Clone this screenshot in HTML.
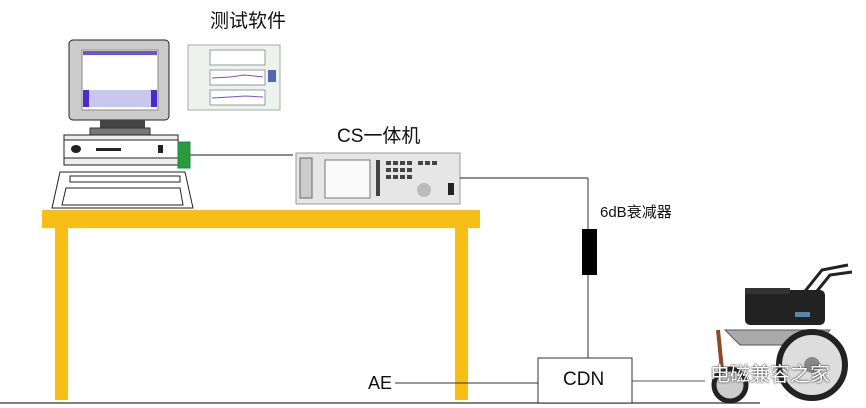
<!DOCTYPE html>
<html><head><meta charset="utf-8"><style>
body{margin:0;background:#fff;width:866px;height:408px;overflow:hidden;position:relative;font-family:"Liberation Sans","Noto Sans CJK SC",sans-serif}
.a{position:absolute}
</style></head><body>
<svg class="a" style="left:0;top:0" width="866" height="408">
<!-- table -->
<rect x="42" y="210" width="438" height="18" fill="#f7bf16"/>
<rect x="55" y="228" width="13" height="172" fill="#f7bf16"/>
<rect x="455" y="228" width="13" height="172" fill="#f7bf16"/>
<line x1="0" y1="403" x2="760" y2="403" stroke="#555" stroke-width="1.5"/>
<!-- monitor -->
<rect x="69" y="40" width="100" height="80" rx="4" fill="#ccc" stroke="#222"/>
<rect x="82" y="50" width="76" height="60" fill="#fff" stroke="#888"/>
<rect x="83" y="90" width="74" height="17" fill="#c8c8ee"/>
<rect x="83" y="90" width="6" height="17" fill="#4a2dc9"/>
<rect x="151" y="90" width="6" height="17" fill="#4a2dc9"/>
<rect x="83" y="51" width="74" height="4" fill="#6655cc"/>
<rect x="100" y="120" width="45" height="8" fill="#444"/>
<rect x="90" y="128" width="60" height="8" fill="#777" stroke="#333"/>
<!-- cpu -->
<rect x="64" y="135" width="114" height="30" fill="#eee" stroke="#222"/>
<rect x="64" y="140" width="114" height="18" fill="#fff" stroke="#222"/>
<ellipse cx="76" cy="149" rx="5" ry="4" fill="#222"/>
<rect x="96" y="148" width="25" height="3" fill="#222"/>
<rect x="158" y="145" width="5" height="8" fill="#222"/>
<rect x="178" y="142" width="12" height="26" fill="#2a9a3a" stroke="#185"/>
<line x1="190" y1="155" x2="293" y2="155" stroke="#666" stroke-width="1.5"/>
<!-- keyboard -->
<path d="M60 172 H185 L193 208 H52 Z" fill="#fff" stroke="#222"/>
<rect x="70" y="176" width="110" height="6" fill="none" stroke="#222"/>
<path d="M66 188 H180 L183 205 H62 Z" fill="none" stroke="#222"/>
<!-- software screenshot -->
<rect x="188" y="45" width="92" height="65" fill="#eef2ee" stroke="#aaa"/>
<rect x="210" y="50" width="55" height="15" fill="#fff" stroke="#999"/>
<rect x="210" y="70" width="55" height="15" fill="#fff" stroke="#999"/>
<rect x="210" y="90" width="55" height="15" fill="#fff" stroke="#999"/>
<polyline points="212,78 230,77 245,75 263,77" fill="none" stroke="#7755bb"/>
<polyline points="212,98 230,97 245,96 263,97" fill="none" stroke="#7755bb"/>
<rect x="268" y="70" width="8" height="12" fill="#5566aa"/>
<!-- CS unit -->
<rect x="296" y="153" width="164" height="51" fill="#e6e6e6" stroke="#999"/>
<rect x="325" y="160" width="45" height="38" fill="#fafafa" stroke="#777"/>
<rect x="300" y="158" width="12" height="40" fill="#ccc" stroke="#666"/>
<g fill="#444">
<rect x="386" y="161" width="5" height="4"/><rect x="393" y="161" width="5" height="4"/><rect x="400" y="161" width="5" height="4"/><rect x="407" y="161" width="5" height="4"/>
<rect x="386" y="168" width="5" height="4"/><rect x="393" y="168" width="5" height="4"/><rect x="400" y="168" width="5" height="4"/><rect x="407" y="168" width="5" height="4"/>
<rect x="386" y="175" width="5" height="4"/><rect x="393" y="175" width="5" height="4"/><rect x="400" y="175" width="5" height="4"/><rect x="407" y="175" width="5" height="4"/>
<rect x="418" y="161" width="5" height="4"/><rect x="425" y="161" width="5" height="4"/><rect x="432" y="161" width="5" height="4"/>
<rect x="376" y="160" width="4" height="36"/>
</g>
<circle cx="424" cy="190" r="7" fill="#bbb"/>
<rect x="448" y="183" width="6" height="12" fill="#222"/>
<line x1="460" y1="178" x2="588" y2="178" stroke="#222"/>
<line x1="588" y1="178" x2="588" y2="358" stroke="#333"/>
<rect x="582" y="229" width="15" height="46" fill="#000"/>
<!-- CDN -->
<rect x="538" y="358" width="94" height="45" fill="#fff" stroke="#333"/>
<line x1="395" y1="383" x2="538" y2="383" stroke="#333"/>
<line x1="632" y1="381" x2="705" y2="381" stroke="#555"/>
<!-- wheelchair -->
<g stroke="#222" fill="none" stroke-width="3">
<path d="M790 310 L822 270 L848 265"/>
<path d="M800 312 L830 275 L852 272"/>
</g>
<rect x="745" y="290" width="80" height="35" rx="5" fill="#222"/>
<rect x="745" y="288" width="45" height="6" fill="#333"/>
<rect x="795" y="312" width="15" height="5" fill="#58a"/>
<path d="M725 330 L830 330 L818 345 L740 345 Z" fill="#aaa" stroke="#555"/>
<circle cx="812" cy="365" r="33" fill="#ddd" stroke="#222" stroke-width="6"/>
<circle cx="812" cy="365" r="8" fill="#888"/>
<circle cx="730" cy="385" r="16" fill="#ccc" stroke="#222" stroke-width="5"/>
<line x1="718" y1="330" x2="722" y2="370" stroke="#8a4a2a" stroke-width="4"/>
</svg>
<div class="a" style="left:210px;top:6px;font-size:19px;color:#111">测试软件</div>
<div class="a" style="left:337px;top:121px;font-size:19px;color:#111">CS一体机</div>
<div class="a" style="left:600px;top:201px;font-size:15px;color:#111">6dB衰减器</div>
<div class="a" style="left:563px;top:369px;font-size:19px;color:#111">CDN</div>
<div class="a" style="left:368px;top:373px;font-size:18px;color:#111">AE</div>
<div class="a" style="left:710px;top:358px;font-size:20px;color:#fff;text-shadow:0 0 2px #333,0 0 1px #333">电磁兼容之家</div>
</body></html>
